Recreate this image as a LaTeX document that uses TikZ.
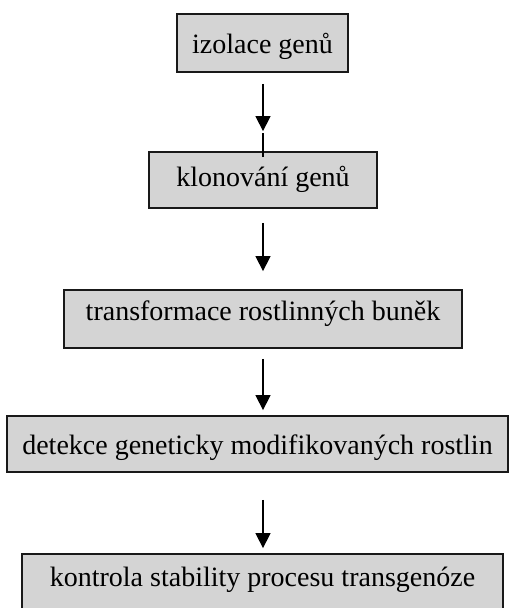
\documentclass[tikz,border=0pt]{standalone}
\usepackage{fontspec}
\setmainfont{Liberation Serif}
\usetikzlibrary{arrows.meta,calc}
\begin{document}
\begin{tikzpicture}[x=1pt,y=-1pt,
  stepbox/.style={draw=black!90,line width=1.8pt,fill=black!17,rectangle,inner sep=0pt,
    font=\fontsize{28}{32}\selectfont,text=black,text depth=0pt},
  flow/.style={line width=1.4pt,-{Triangle[width=15pt,length=15pt]}}]
\useasboundingbox (0,0) rectangle (510,608);
\clip (0,0) rectangle (510,608);
\node[stepbox,minimum width=171pt,minimum height=58pt,text height=20pt] (b1) at (262.5,43) {izolace genů};
\node[stepbox,minimum width=228pt,minimum height=56pt,text height=12pt] (b2) at (263,180) {klonování genů};
\node[stepbox,minimum width=398pt,minimum height=58pt,text height=2pt] (b3) at (263,319) {transformace rostlinných buněk};
\node[stepbox,minimum width=501pt,minimum height=56pt,text height=20pt] (b4) at (257.5,444) {detekce geneticky modifikovaných rostlin};
\node[stepbox,minimum width=481pt,minimum height=58pt,text height=6pt] (b5) at (262.5,583) {kontrola stability procesu transgenóze};
\draw[flow,shorten <=11pt,shorten >=20pt] (b1.south-|263,0) -- (b2.north-|263,0);
\draw[line width=1.4pt] ($(b2.north-|263,0)+(0,-18)$) -- ($(b2.north-|263,0)+(0,6)$);
\draw[flow,shorten <=14pt,shorten >=18pt] (b2.south-|263,0) -- (b3.north-|263,0);
\draw[flow,shorten <=10pt,shorten >=5pt] (b3.south-|263,0) -- (b4.north-|263,0);
\draw[flow,shorten <=27pt,shorten >=5pt] (b4.south-|263,0) -- (b5.north-|263,0);
\end{tikzpicture}
\end{document}
